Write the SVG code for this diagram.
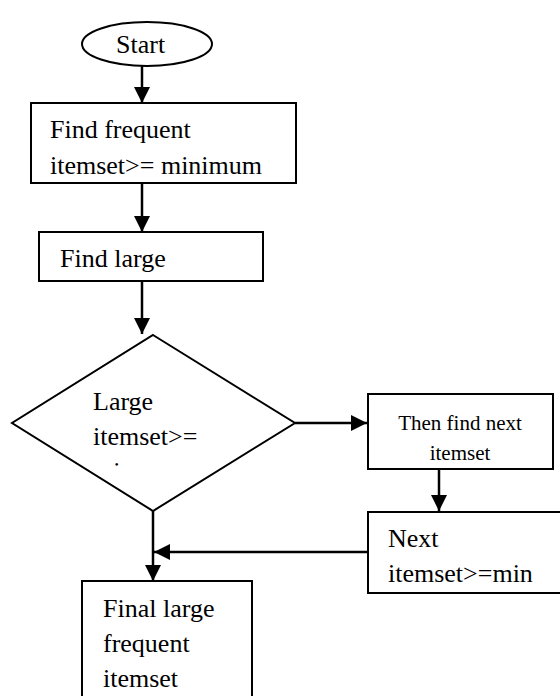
<svg xmlns="http://www.w3.org/2000/svg" width="560" height="696" viewBox="0 0 560 696">
<style>
.n{fill:#fff;stroke:#000;stroke-width:2}
.t{font-family:'Liberation Serif','DejaVu Serif',serif;font-size:26px;fill:#000}
.s{font-family:'Liberation Serif','DejaVu Serif',serif;font-size:21px;fill:#000}
.c{fill:none;stroke:#000;stroke-width:2.5}
</style>
<defs>
<marker id="a" viewBox="0 0 16 16" refX="16" refY="8" markerWidth="16" markerHeight="16" markerUnits="userSpaceOnUse" orient="auto">
<path d="M0,0 L16,8 L0,16 z" fill="#000"/>
</marker>
<clipPath id="dclip"><rect x="0" y="0" width="126" height="466"/></clipPath>
</defs>
<rect width="560" height="696" fill="#fff"/>
<g id="connectors">
<line class="c" x1="142" y1="66" x2="142" y2="103" marker-end="url(#a)"/>
<line class="c" x1="142" y1="183" x2="142" y2="232" marker-end="url(#a)"/>
<line class="c" x1="142" y1="281" x2="142" y2="334" marker-end="url(#a)"/>
<line class="c" x1="295" y1="423" x2="367" y2="423" marker-end="url(#a)"/>
<line class="c" x1="439" y1="470" x2="439" y2="511" marker-end="url(#a)"/>
<line class="c" x1="153" y1="511" x2="153" y2="581" marker-end="url(#a)"/>
<line class="c" x1="368" y1="552" x2="154" y2="552" marker-end="url(#a)"/>
</g>
<g id="start">
<ellipse class="n" cx="147" cy="44" rx="65" ry="22"/>
<text class="t" font-family="Liberation Serif, serif" x="116" y="53">Start</text>
</g>
<g id="find-frequent">
<rect class="n" x="31" y="103" width="265" height="80"/>
<text class="t" font-family="Liberation Serif, serif" x="50" y="138">Find frequent</text>
<text class="t" font-family="Liberation Serif, serif" x="50" y="174">itemset&gt;= minimum</text>
</g>
<g id="find-large">
<rect class="n" x="39" y="232" width="224" height="49"/>
<text class="t" x="60" y="267">Find large</text>
</g>
<g id="decision">
<polygon class="n" stroke-width="1.6" points="153,335 295,423 153,511 12,423"/>
<text class="t" x="93" y="410">Large</text>
<text class="t" x="93" y="445">itemset&gt;=</text>
<text class="t" x="93" y="480" clip-path="url(#dclip)">minimum</text>
</g>
<g id="then-find-next">
<rect class="n" x="368" y="394" width="185" height="75"/>
<text class="s" x="460" y="430" text-anchor="middle">Then find next</text>
<text class="s" x="460" y="460" text-anchor="middle">itemset</text>
</g>
<g id="next-itemset">
<rect class="n" x="368" y="512" width="200" height="81"/>
<text class="t" x="388" y="547">Next</text>
<text class="t" x="388" y="582">itemset&gt;=min</text>
</g>
<g id="final">
<rect class="n" x="82" y="581" width="170" height="130"/>
<text class="t" x="103" y="617">Final large</text>
<text class="t" x="103" y="652">frequent</text>
<text class="t" x="103" y="687">itemset</text>
</g>
</svg>
